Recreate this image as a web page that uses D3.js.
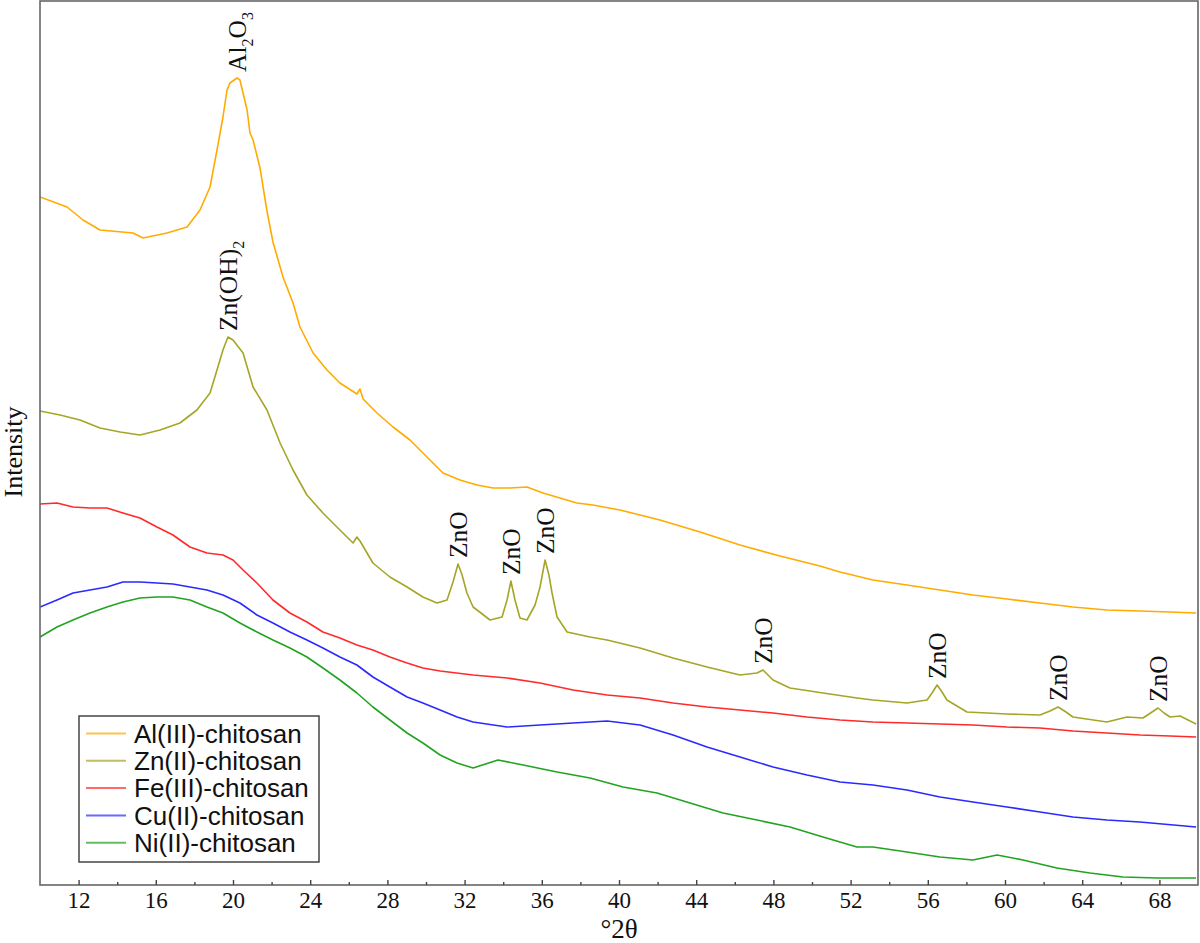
<!DOCTYPE html>
<html>
<head>
<meta charset="utf-8">
<script src="https://cdn.jsdelivr.net/npm/d3@7"></script>
<style>
  html, body { margin: 0; padding: 0; background: #fff; }
  svg { display: block; }
</style>
</head>
<body>
<svg id="chart" width="1200" height="943"></svg>
<script>
// ---- Data (2θ in degrees, intensity in arbitrary units) ----
const seriesNames = ["Al(III)-chitosan", "Zn(II)-chitosan", "Fe(III)-chitosan", "Cu(II)-chitosan", "Ni(II)-chitosan"];
const seriesColors = ["#ffab00", "#a5a526", "#ff2a2a", "#2a2aff", "#22a322"];

const alData = [[10.00,688],[11.40,678],[12.23,665],[13.11,655],[14.82,652],[15.34,647],[16.58,652],[17.62,658],[18.29,675],[18.81,698],[19.17,735],[19.48,768],[19.69,795],[19.84,802],[20.21,807],[20.36,805],[20.52,792],[20.73,775],[20.88,752],[21.04,745],[21.40,717],[21.76,674],[22.07,643],[22.59,608],[23.11,582],[23.47,558],[24.15,532],[24.87,515],[25.54,502],[26.42,491],[26.58,496],[26.74,486],[27.46,472],[28.29,458],[29.17,445],[30.05,428],[30.88,412],[31.76,405],[32.64,400],[33.47,397],[34.35,397],[35.23,398],[36.06,392],[36.94,387],[37.82,382],[38.65,380],[40.05,375],[42.12,365],[44.20,353],[46.27,340],[48.34,329],[50.41,319],[51.45,313],[53.16,305],[54.92,300],[56.63,295],[58.34,290],[60.10,286],[61.81,282],[63.52,278],[65.28,275],[66.99,274],[68.55,273],[69.90,272]];

const znData = [[10.00,474],[11.04,470],[12.07,465],[13.11,457],[14.15,453],[15.18,450],[16.22,455],[17.25,462],[18.13,475],[18.81,492],[19.17,515],[19.48,535],[19.74,548],[20.00,545],[20.52,532],[21.04,498],[21.76,475],[22.44,442],[23.11,415],[23.83,390],[24.66,372],[25.54,355],[26.22,342],[26.42,348],[26.58,344],[27.25,322],[28.13,308],[29.02,298],[29.84,288],[30.57,282],[31.09,285],[31.40,303],[31.66,321],[31.87,310],[32.12,292],[32.44,278],[33.32,265],[33.94,268],[34.20,285],[34.40,304],[34.61,285],[34.87,267],[35.23,265],[35.65,280],[35.91,298],[36.17,325],[36.37,310],[36.53,292],[36.79,268],[37.31,253],[38.50,248],[39.38,245],[41.09,237],[42.80,227],[44.56,218],[46.27,210],[47.15,212],[47.46,215],[47.98,205],[48.86,197],[50.57,192],[52.33,187],[53.16,185],[54.92,182],[55.96,185],[56.22,192],[56.48,200],[56.74,193],[56.99,185],[58.03,173],[60.10,171],[61.81,170],[62.33,174],[62.75,178],[63.16,173],[63.52,168],[65.28,163],[66.32,168],[67.15,167],[67.62,173],[67.93,177],[68.24,172],[68.55,168],[69.07,169],[69.90,161]];

const feData = [[10.00,381],[10.88,382],[11.71,378],[12.59,377],[13.47,377],[14.30,372],[15.18,367],[16.06,358],[16.89,350],[17.77,338],[18.65,332],[19.48,330],[20.00,325],[20.52,315],[21.24,302],[22.07,285],[22.95,272],[23.83,263],[24.66,253],[25.54,247],[26.42,240],[27.25,235],[28.13,228],[29.02,222],[29.84,217],[30.73,214],[32.44,210],[34.20,207],[35.91,202],[37.62,195],[39.38,190],[41.09,187],[42.80,182],[44.56,178],[46.27,175],[47.98,172],[49.74,168],[51.45,165],[53.16,163],[54.92,162],[56.63,161],[58.34,160],[60.10,158],[61.81,157],[63.52,154],[65.28,152],[66.99,150],[68.55,149],[69.90,148]];

const cuData = [[10.00,278],[10.88,285],[11.71,292],[12.59,295],[13.47,298],[14.30,303],[15.18,303],[16.06,302],[16.89,301],[17.77,298],[18.65,295],[19.48,290],[20.36,282],[21.24,270],[22.07,262],[22.95,253],[23.83,245],[24.66,237],[25.54,228],[26.42,220],[27.25,208],[28.13,198],[29.02,188],[29.84,182],[30.73,175],[31.61,168],[32.44,163],[34.20,158],[35.91,160],[37.62,162],[39.38,164],[41.09,160],[42.80,150],[44.56,138],[46.27,128],[47.98,118],[49.74,110],[51.45,103],[53.16,100],[54.92,95],[56.63,88],[58.34,83],[60.10,78],[61.81,73],[63.52,68],[65.28,65],[66.99,63],[69.90,58]];

const niData = [[10.00,248],[10.88,258],[11.71,265],[12.59,272],[13.47,278],[14.30,283],[15.18,287],[16.06,288],[16.89,288],[17.77,285],[18.65,278],[19.48,272],[20.36,262],[21.24,253],[22.07,245],[22.95,237],[23.83,228],[24.66,217],[25.54,205],[26.42,192],[27.25,178],[28.13,165],[29.02,152],[29.84,142],[30.73,130],[31.61,122],[32.44,117],[33.73,125],[35.03,120],[36.79,113],[38.50,107],[40.21,98],[41.97,92],[43.68,82],[45.39,72],[47.15,65],[48.86,58],[50.57,48],[52.33,38],[53.16,38],[54.92,33],[56.63,28],[58.34,25],[59.59,30],[60.93,25],[62.69,17],[64.40,12],[66.11,8],[67.88,7],[69.90,7]];

const majorTicks = [12,16,20,24,28,32,36,40,44,48,52,56,60,64,68];
const minorTicks = [14,18,22,26,30,34,38,42,46,50,54,58,62,66];

// peak annotations: [series index, 2θ of peak, label parts [text, isSub]]
const annotations = [
  [0, 20.21, [["Al",false],["2",true],["O",false],["3",true]]],
  [1, 19.74, [["Zn(OH)",false],["2",true]]],
  [1, 31.66, [["ZnO",false]]],
  [1, 34.40, [["ZnO",false]]],
  [1, 36.17, [["ZnO",false]]],
  [1, 47.46, [["ZnO",false]]],
  [1, 56.48, [["ZnO",false]]],
  [1, 62.75, [["ZnO",false]]],
  [1, 67.93, [["ZnO",false]]]
];

const allSeries = [alData, znData, feData, cuData, niData];

// ---- Layout ----
const svg = d3.select("#chart");
const L = 40, R = 1198, T = 1, B = 885;
const serif = "'Liberation Serif', 'Times New Roman', serif";
const sans = "'Liberation Sans', Arial, sans-serif";

const x = d3.scaleLinear().domain([10, 70]).range([L, R]);
const y = d3.scaleLinear().domain([0, 884]).range([B, T]);

svg.append("defs").append("clipPath").attr("id", "clip")
  .append("rect").attr("x", L).attr("y", T).attr("width", R - L).attr("height", B - T);

// series
const line = d3.line().x(d => x(d[0])).y(d => y(d[1]));
const g = svg.append("g").attr("clip-path", "url(#clip)");
allSeries.forEach((data, i) => {
  g.append("path").datum(data)
    .attr("d", line)
    .attr("fill", "none")
    .attr("stroke", seriesColors[i])
    .attr("stroke-width", 1.6)
    .attr("stroke-linejoin", "round");
});

// frame
svg.append("rect").attr("x", L).attr("y", T).attr("width", R - L).attr("height", B - T)
  .attr("fill", "none").attr("stroke", "#666").attr("stroke-width", 1.6);

// axis (ticks inward)
const xAxis = svg.append("g").attr("transform", `translate(0,${B})`)
  .call(d3.axisBottom(x).tickValues(majorTicks).tickSize(-5).tickPadding(7).tickFormat(d3.format("d")));
xAxis.select(".domain").remove();
xAxis.selectAll(".tick line").attr("stroke", "#444").attr("stroke-width", 1.4);
xAxis.selectAll(".tick text").attr("font-family", serif).attr("font-size", 23).attr("fill", "#111");

const xMinor = svg.append("g").attr("transform", `translate(0,${B})`)
  .call(d3.axisBottom(x).tickValues(minorTicks).tickSize(-3).tickFormat(""));
xMinor.select(".domain").remove();
xMinor.selectAll(".tick line").attr("stroke", "#444").attr("stroke-width", 1.4);

// axis titles
svg.append("text").attr("x", (L + R) / 2).attr("y", 938)
  .attr("text-anchor", "middle").attr("font-family", serif).attr("font-size", 27).attr("fill", "#111")
  .text("°2θ");
svg.append("text").attr("transform", "translate(22,452) rotate(-90)")
  .attr("text-anchor", "middle").attr("font-family", serif).attr("font-size", 26).attr("fill", "#111")
  .text("Intensity");

// annotations
function valueAt(data, deg) {
  let best = data[0];
  data.forEach(d => { if (Math.abs(d[0] - deg) < Math.abs(best[0] - deg)) best = d; });
  return best[1];
}
annotations.forEach(([si, deg, parts]) => {
  const px = x(deg), py = y(valueAt(allSeries[si], deg)) - 6;
  const t = svg.append("text")
    .attr("transform", `translate(${px},${py}) rotate(-90)`)
    .attr("dy", "0.35em")
    .attr("font-family", serif).attr("font-size", 25.5).attr("fill", "#111");
  let shifted = false;
  parts.forEach(([txt, sub]) => {
    const ts = t.append("tspan").text(txt);
    if (sub) { ts.attr("font-size", 16).attr("dy", shifted ? 0 : 7); shifted = true; }
    else { if (shifted) ts.attr("dy", -7); shifted = false; }
  });
});

// legend
const lg = svg.append("g");
lg.append("rect").attr("x", 79).attr("y", 716).attr("width", 240).attr("height", 146)
  .attr("fill", "#fff").attr("stroke", "#444").attr("stroke-width", 1.5);
seriesNames.forEach((name, i) => {
  const cy = 733.5 + i * 27.3;
  lg.append("line").attr("x1", 86).attr("x2", 126).attr("y1", cy).attr("y2", cy)
    .attr("stroke", seriesColors[i]).attr("stroke-width", 2).attr("opacity", 0.7);
  lg.append("text").attr("x", 134).attr("y", cy).attr("dy", "0.36em")
    .attr("font-family", sans).attr("font-size", 26).attr("fill", "#111").text(name);
});
</script>
</body>
</html>
